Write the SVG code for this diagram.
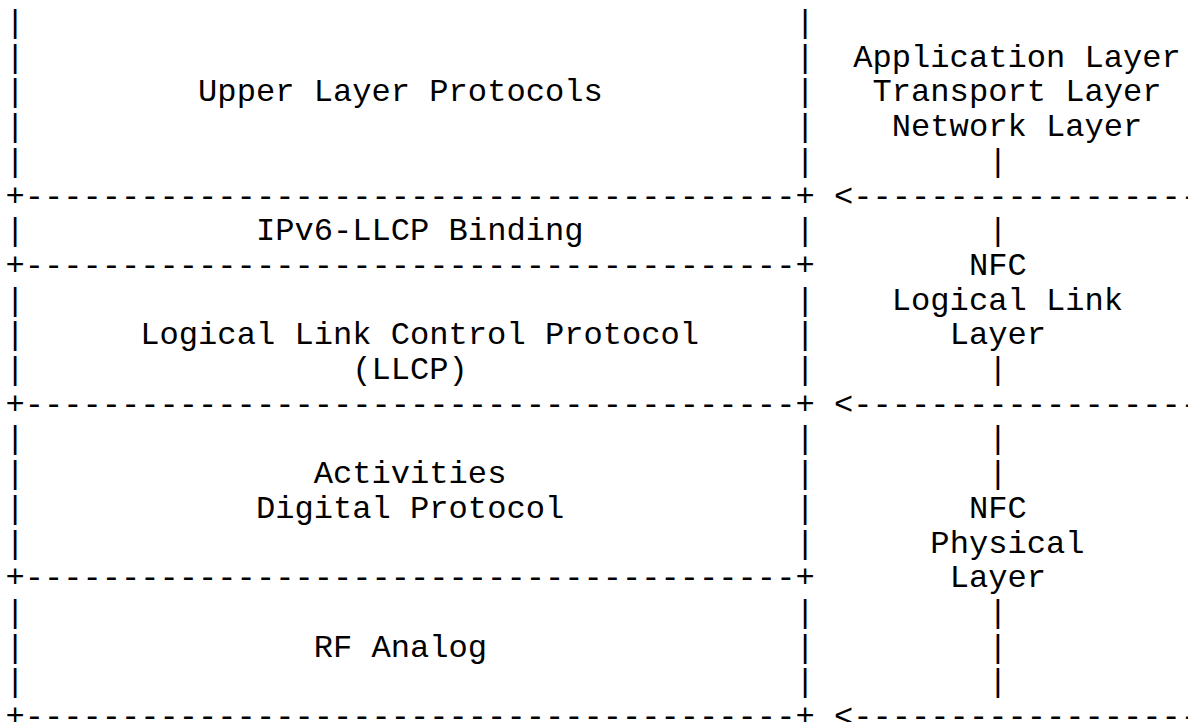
<svg xmlns="http://www.w3.org/2000/svg" width="1188" height="722" viewBox="0 0 1188 722">
<style>
text { font-family: "Liberation Mono", "Courier New", monospace; font-size: 32.12px; fill: #000; white-space: pre; }
</style>
<rect width="1188" height="722" fill="#fff"/>
<g id="stack-separators">
<text x="5.4" y="205.5">+----------------------------------------+</text>
<text x="5.4" y="274.9">+----------------------------------------+</text>
<text x="5.4" y="413.7">+----------------------------------------+</text>
<text x="5.4" y="587.2">+----------------------------------------+</text>
<text x="5.4" y="726">+----------------------------------------+</text>
</g>
<g id="upper-layer-protocols">
<text x="5.4" y="32">|</text><text x="795.47" y="32">|</text>
<text x="5.4" y="66.7">|</text><text x="795.47" y="66.7">|</text>
<text x="5.4" y="101.4">|</text><text x="795.47" y="101.4">|</text>
<text x="5.4" y="136.1">|</text><text x="795.47" y="136.1">|</text>
<text x="5.4" y="170.8">|</text><text x="795.47" y="170.8">|</text>
<text x="198.1" y="101.4">Upper Layer Protocols</text>
</g>
<g id="ipv6-llcp-binding">
<text x="5.4" y="240.2">|</text><text x="795.47" y="240.2">|</text>
<text x="255.91" y="240.2">IPv6-LLCP Binding</text>
</g>
<g id="llcp">
<text x="5.4" y="309.6">|</text><text x="795.47" y="309.6">|</text>
<text x="5.4" y="344.3">|</text><text x="795.47" y="344.3">|</text>
<text x="5.4" y="379">|</text><text x="795.47" y="379">|</text>
<text x="140.29" y="344.3">Logical Link Control Protocol</text>
<text x="352.26" y="379">(LLCP)</text>
</g>
<g id="digital-protocol">
<text x="5.4" y="448.4">|</text><text x="795.47" y="448.4">|</text>
<text x="5.4" y="483.1">|</text><text x="795.47" y="483.1">|</text>
<text x="5.4" y="517.8">|</text><text x="795.47" y="517.8">|</text>
<text x="5.4" y="552.5">|</text><text x="795.47" y="552.5">|</text>
<text x="313.72" y="483.1">Activities</text>
<text x="255.91" y="517.8">Digital Protocol</text>
</g>
<g id="rf-analog">
<text x="5.4" y="621.9">|</text><text x="795.47" y="621.9">|</text>
<text x="5.4" y="656.6">|</text><text x="795.47" y="656.6">|</text>
<text x="5.4" y="691.3">|</text><text x="795.47" y="691.3">|</text>
<text x="313.72" y="656.6">RF Analog</text>
</g>
<g id="upper-layers-label">
<text x="853.28" y="66.7">Application Layer</text>
<text x="872.55" y="101.4">Transport Layer</text>
<text x="891.82" y="136.1">Network Layer</text>
</g>
<g id="nfc-logical-link-layer">
<text x="968.9" y="274.9">NFC</text>
<text x="891.82" y="309.6">Logical Link</text>
<text x="949.63" y="344.3">Layer</text>
</g>
<g id="nfc-physical-layer">
<text x="968.9" y="517.8">NFC</text>
<text x="930.36" y="552.5">Physical</text>
<text x="949.63" y="587.2">Layer</text>
</g>
<g id="connectors">
<text x="834.01" y="205.5">&lt;------------------</text>
<text x="834.01" y="413.7">&lt;------------------</text>
<text x="834.01" y="726">&lt;------------------</text>
<text x="988.17" y="170.8">|</text>
<text x="988.17" y="240.2">|</text>
<text x="988.17" y="379">|</text>
<text x="988.17" y="448.4">|</text>
<text x="988.17" y="483.1">|</text>
<text x="988.17" y="621.9">|</text>
<text x="988.17" y="656.6">|</text>
<text x="988.17" y="691.3">|</text>
</g>
</svg>
